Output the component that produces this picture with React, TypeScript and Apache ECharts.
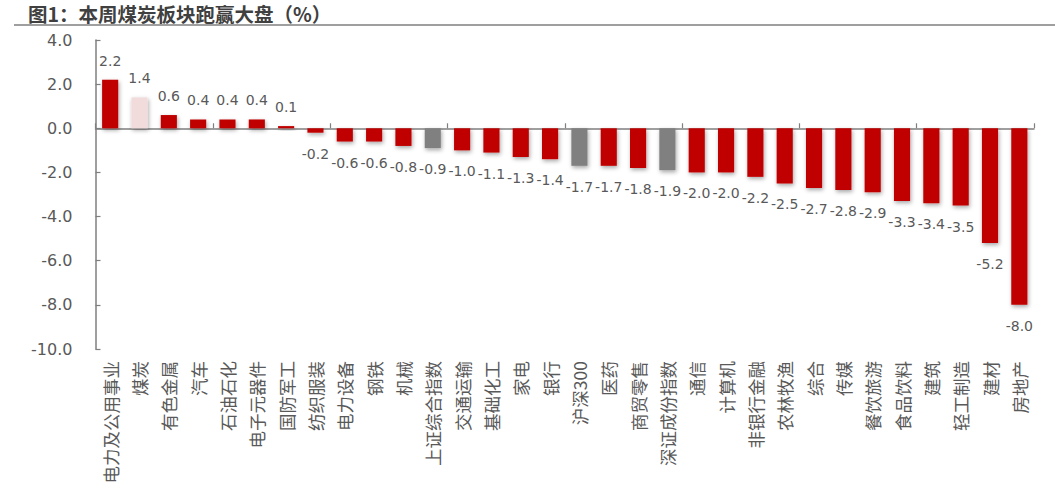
import React, { useEffect, useRef } from "react";
import * as echarts from "echarts";

const categories = [
  "电力及公用事业", "煤炭", "有色金属", "汽车", "石油石化", "电子元器件", "国防军工", "纺织服装",
  "电力设备", "钢铁", "机械", "上证综合指数", "交通运输", "基础化工", "家电", "银行",
  "沪深300", "医药", "商贸零售", "深证成份指数", "通信", "计算机", "非银行金融", "农林牧渔",
  "综合", "传媒", "餐饮旅游", "食品饮料", "建筑", "轻工制造", "建材", "房地产",
];
const values = [
  2.2, 1.4, 0.6, 0.4, 0.4, 0.4, 0.1, -0.2,
  -0.6, -0.6, -0.8, -0.9, -1.0, -1.1, -1.3, -1.4,
  -1.7, -1.7, -1.8, -1.9, -2.0, -2.0, -2.2, -2.5,
  -2.7, -2.8, -2.9, -3.3, -3.4, -3.5, -5.2, -8.0,
];
const indexCategories = ["上证综合指数", "沪深300", "深证成份指数"];
const highlightCategory = "煤炭";
const yTicks = { min: -10, max: 4, interval: 2 };
const titleText = "图1：本周煤炭板块跑赢大盘（%）";

const RED = "#C00000";
const GRAY = "#808080";
const PINK = "#F2DCDB";
const TEXT = "#595959";
const CJK = "'Noto Sans CJK SC', sans-serif";
const NUM = "'DejaVu Sans', sans-serif";

export default function App() {
  const ref = useRef<HTMLDivElement>(null);
  useEffect(() => {
    if (!ref.current) return;
    const chart = echarts.init(ref.current, undefined, { renderer: "svg" });
    const data = values.map((v, i) => {
      const name = categories[i];
      const color = name === highlightCategory ? PINK : indexCategories.includes(name) ? GRAY : RED;
      return {
        value: v,
        itemStyle: { color },
        label: { position: v >= 0 ? "top" : "bottom", distance: v >= 0 ? 12 : 14 },
      };
    });
    chart.setOption({
      animation: false,
      textStyle: { fontFamily: CJK },
      title: {
        text: titleText,
        left: 23,
        top: -1,
        textStyle: { fontSize: 19.5, fontWeight: "bold", color: "#404040", fontFamily: CJK },
      },
      graphic: [
        {
          type: "line",
          shape: { x1: 14, y1: 25, x2: 1055, y2: 25 },
          style: { stroke: "#7F7F7F", lineWidth: 1.5 },
        },
      ],
      grid: { left: 95.5, right: 21, top: 40, bottom: 140 },
      xAxis: [
        {
          type: "category",
          data: categories,
          position: "top",
          axisLine: { onZero: true, lineStyle: { color: "#7F7F7F", width: 1.5 } },
          axisTick: { show: true, inside: false, length: 5, lineStyle: { color: "#7F7F7F", width: 1.2 } },
          axisLabel: { show: false },
          splitLine: { show: false },
        },
        {
          type: "category",
          data: categories,
          position: "bottom",
          axisLine: { show: false, onZero: false },
          axisTick: { show: false },
          splitLine: { show: false },
          axisLabel: {
            interval: 0,
            rotate: 90,
            margin: 12,
            fontSize: 17.5,
            color: TEXT,
            fontFamily: CJK,
          },
        },
      ],
      yAxis: {
        type: "value",
        min: yTicks.min,
        max: yTicks.max,
        interval: yTicks.interval,
        axisLine: { show: true, lineStyle: { color: "#7F7F7F", width: 1.5 } },
        axisTick: { show: true, inside: true, length: 5, lineStyle: { color: "#7F7F7F", width: 1.2 } },
        splitLine: { show: false },
        axisLabel: {
          margin: 23,
          fontSize: 16,
          color: TEXT,
          fontFamily: NUM,
          formatter: (v: number) => v.toFixed(1),
        },
      },
      series: [
        {
          type: "bar",
          xAxisIndex: 0,
          data,
          barWidth: "55%",
          itemStyle: {
            shadowColor: "rgba(0,0,0,0.35)",
            shadowBlur: 4,
            shadowOffsetX: 1,
            shadowOffsetY: 2,
          },
          label: {
            show: true,
            fontSize: 14,
            color: TEXT,
            fontFamily: NUM,
            formatter: (p: any) => Number(p.value).toFixed(1),
          },
        },
      ],
    });
    return () => chart.dispose();
  }, []);
  return (
    <div
      ref={ref}
      style={{ position: "fixed", left: 0, top: 0, width: 1055, height: 489, background: "#fff" }}
    />
  );
}
